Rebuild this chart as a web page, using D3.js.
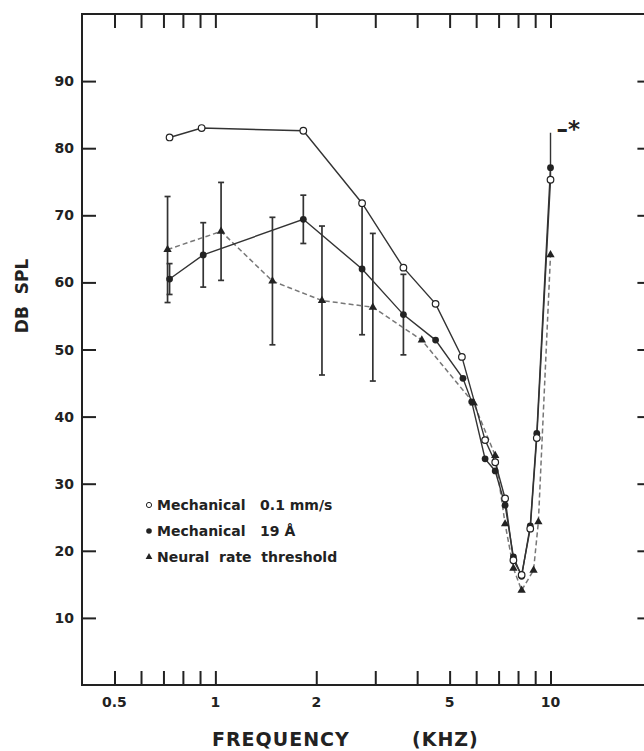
<!DOCTYPE html>
<html>
<head>
<meta charset="utf-8">
<script src="https://cdn.jsdelivr.net/npm/d3@7"></script>
<style>
  body { margin: 0; background: #fff; }
  svg { display: block; font-family: "DejaVu Sans", sans-serif; font-weight: bold; }
</style>
</head>
<body>
<div id="chart"></div>
<script>
// tick values
const xTicks = [0.5, 0.6, 0.7, 0.8, 0.9, 1, 2, 3, 4, 5, 6, 7, 8, 9, 10];
const xTickLabels = [0.5, 1, 2, 5, 10];
const yTicks = [10, 20, 30, 40, 50, 60, 70, 80, 90];

// Mechanical 0.1 mm/s (open circles)
const velFreq = [0.73, 0.91, 1.83, 2.74, 3.64, 4.54, 5.44, 6.38, 6.84, 7.32, 7.75, 8.2, 8.7, 9.1, 10];
const velDb   = [81.6, 83.0, 82.6, 71.8, 62.2, 56.8, 48.9, 36.5, 33.2, 27.8, 18.6, 16.4, 23.3, 36.8, 75.3];

// Mechanical 19 A (filled circles)
const dispFreq = [0.73, 0.92, 1.83, 2.74, 3.64, 4.54, 5.48, 5.82, 6.38, 6.84, 7.32, 7.75, 8.2, 8.7, 9.1, 10];
const dispDb   = [60.5, 64.1, 69.4, 62.0, 55.2, 51.4, 45.7, 42.2, 33.7, 31.9, 26.8, 19.1, 16.2, 23.7, 37.5, 77.1];
const dispErr  = [2.3, 4.8, 3.6, 9.8, 6.0, 0, 0, 0, 0, 0, 0, 0, 0, 0, 0, 0];

// Neural rate threshold (triangles)
const neuralFreq = [0.72, 1.04, 1.48, 2.08, 2.95, 4.13, 5.9, 6.84, 7.32, 7.75, 8.2, 8.9, 9.2, 10];
const neuralDb   = [64.9, 67.6, 60.2, 57.3, 56.3, 51.4, 42.0, 34.2, 24.0, 17.4, 14.1, 17.1, 24.3, 64.1];
const neuralErr  = [7.9, 7.3, 9.5, 11.1, 11.0, 0, 0, 0, 0, 0, 0, 0, 0, 0];

// off-scale point at 10 kHz (marked -*)
const offScaleFreq = 10;
const offScaleDb = 82.3;

const legendLabels = ['Mechanical   0.1 mm/s', 'Mechanical   19 Å', 'Neural  rate  threshold'];

const width = 644, height = 751;
const ink = '#222';

const svg = d3.select('#chart').append('svg')
    .attr('width', width)
    .attr('height', height);

const x = d3.scaleLog().domain([0.4, 20]).range([82, 651.4]);
const y = d3.scaleLinear().domain([0, 100]).range([685, 14]);

// frame
svg.append('rect')
    .attr('x', x(0.4)).attr('y', y(100))
    .attr('width', x(20) - x(0.4)).attr('height', y(0) - y(100))
    .attr('fill', 'none').attr('stroke', ink).attr('stroke-width', 2);

const tickLen = 14;

// ticks on all four sides, pointing in
const xb = svg.append('g')
    .attr('transform', 'translate(0,' + y(0) + ')')
    .call(d3.axisTop(x).tickValues(xTicks).tickSize(tickLen).tickFormat(''));
const xt = svg.append('g')
    .attr('transform', 'translate(0,' + y(100) + ')')
    .call(d3.axisBottom(x).tickValues(xTicks).tickSize(tickLen).tickFormat(''));
const yl = svg.append('g')
    .attr('transform', 'translate(' + x(0.4) + ',0)')
    .call(d3.axisRight(y).tickValues(yTicks).tickSize(tickLen).tickFormat(''));
const yr = svg.append('g')
    .attr('transform', 'translate(' + x(20) + ',0)')
    .call(d3.axisLeft(y).tickValues(yTicks).tickSize(tickLen).tickFormat(''));

[xb, xt, yl, yr].forEach(g => {
  g.select('.domain').remove();
  g.selectAll('line').attr('stroke', ink).attr('stroke-width', 2);
});

// tick labels
svg.append('g').selectAll('text')
  .data(xTickLabels)
  .join('text')
    .attr('x', d => x(d))
    .attr('y', 707)
    .attr('text-anchor', 'middle')
    .attr('font-size', 14)
    .attr('fill', ink)
    .text(d => d);

svg.append('g').selectAll('text')
  .data(yTicks)
  .join('text')
    .attr('x', 74)
    .attr('y', d => y(d) + 5)
    .attr('text-anchor', 'end')
    .attr('font-size', 14)
    .attr('fill', ink)
    .text(d => d);

// axis titles
svg.append('text')
    .attr('transform', 'translate(28,296) rotate(-90)')
    .attr('text-anchor', 'middle')
    .attr('font-size', 17)
    .attr('fill', ink)
    .attr('xml:space', 'preserve')
    .text('DB  SPL');

svg.append('text')
    .attr('x', 212).attr('y', 746)
    .attr('font-size', 19)
    .attr('letter-spacing', 1)
    .attr('fill', ink)
    .text('FREQUENCY');
svg.append('text')
    .attr('x', 412).attr('y', 746)
    .attr('font-size', 19)
    .attr('letter-spacing', 1)
    .attr('fill', ink)
    .text('(KHZ)');

const pts = (fs, ds) => fs.map((f, i) => ({f: f, v: ds[i]}));
const line = d3.line().x(d => x(d.f)).y(d => y(d.v));

const velPts = pts(velFreq, velDb);
const dispPts = pts(dispFreq, dispDb).map((d, i) => ({...d, e: dispErr[i]}));
const neuralPts = pts(neuralFreq, neuralDb).map((d, i) => ({...d, e: neuralErr[i]}));

// error bars
const errG = svg.append('g').attr('stroke', '#333').attr('stroke-width', 1.7);
[dispPts, neuralPts].forEach(set => {
  set.filter(d => d.e > 0).forEach(d => {
    const cx = x(d.f);
    errG.append('line')
        .attr('x1', cx).attr('x2', cx)
        .attr('y1', y(d.v + d.e)).attr('y2', y(d.v - d.e));
    [d.v + d.e, d.v - d.e].forEach(v => {
      errG.append('line')
          .attr('x1', cx - 3).attr('x2', cx + 3)
          .attr('y1', y(v)).attr('y2', y(v));
    });
  });
});

// lines
svg.append('path')
    .datum(neuralPts)
    .attr('fill', 'none')
    .attr('stroke', '#777')
    .attr('stroke-width', 1.5)
    .attr('stroke-dasharray', '5,3')
    .attr('d', line);

svg.append('path')
    .datum(dispPts)
    .attr('fill', 'none')
    .attr('stroke', '#333')
    .attr('stroke-width', 1.4)
    .attr('d', line);

svg.append('path')
    .datum(velPts.concat([{f: offScaleFreq, v: offScaleDb}]))
    .attr('fill', 'none')
    .attr('stroke', '#333')
    .attr('stroke-width', 1.4)
    .attr('d', line);

// markers
const tri = d3.symbol().type(d3.symbolTriangle).size(30);
svg.append('g').selectAll('path')
  .data(neuralPts)
  .join('path')
    .attr('transform', d => 'translate(' + x(d.f) + ',' + y(d.v) + ')')
    .attr('d', tri)
    .attr('fill', ink);

svg.append('g').selectAll('circle')
  .data(dispPts)
  .join('circle')
    .attr('cx', d => x(d.f)).attr('cy', d => y(d.v))
    .attr('r', 3.4)
    .attr('fill', ink);

svg.append('g').selectAll('circle')
  .data(velPts)
  .join('circle')
    .attr('cx', d => x(d.f)).attr('cy', d => y(d.v))
    .attr('r', 3.3)
    .attr('fill', '#fff')
    .attr('stroke', ink)
    .attr('stroke-width', 1.2);

// off-scale marker
svg.append('text')
    .attr('x', x(offScaleFreq) + 6)
    .attr('y', y(offScaleDb) + 4)
    .attr('font-size', 23)
    .attr('fill', ink)
    .text('–*');

// legend
const legY = [510, 536, 562];
const leg = svg.append('g');
leg.append('circle').attr('cx', 149).attr('cy', legY[0] - 5).attr('r', 2.6)
    .attr('fill', '#fff').attr('stroke', ink).attr('stroke-width', 1);
leg.append('circle').attr('cx', 149).attr('cy', legY[1] - 5).attr('r', 2.8).attr('fill', ink);
leg.append('path').attr('transform', 'translate(149,' + (legY[2] - 5) + ')')
    .attr('d', d3.symbol().type(d3.symbolTriangle).size(20)).attr('fill', ink);
leg.selectAll('text')
  .data(legendLabels)
  .join('text')
    .attr('x', 157)
    .attr('y', (d, i) => legY[i])
    .attr('font-size', 14)
    .attr('fill', ink)
    .attr('xml:space', 'preserve')
    .text(d => d);
</script>
</body>
</html>
